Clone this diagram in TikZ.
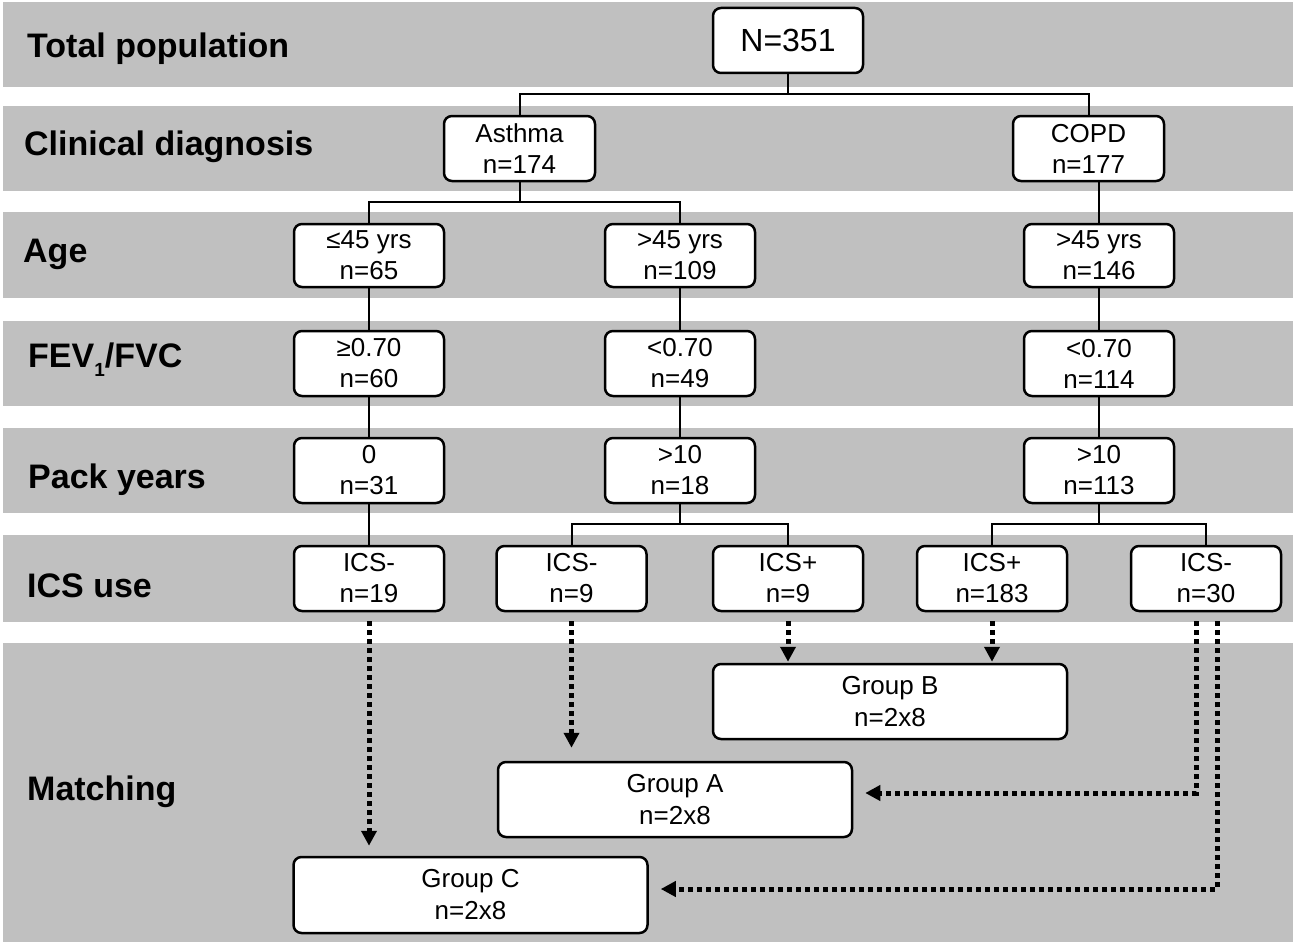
\documentclass[tikz,border=0pt]{standalone}
\usepackage{fontspec}
\setmainfont{Liberation Sans}
\usetikzlibrary{arrows.meta}
\definecolor{bandgray}{RGB}{192,192,192}
\begin{document}
\begin{tikzpicture}[x=1pt,y=-1pt,
  box/.style={draw, line width=2.5pt, rounded corners=8pt, fill=white, align=center, inner sep=0pt,
    font=\fontsize{26}{31}\selectfont, minimum width=150pt, minimum height=65pt},
  grp/.style={box, minimum width=354pt, minimum height=75pt, font=\fontsize{26}{32}\selectfont},
  lbl/.style={anchor=base west, inner sep=0pt, font=\bfseries\fontsize{34}{34}\selectfont},
  conn/.style={line width=2pt},
  dotarr/.style={line width=5pt, dash pattern=on 5pt off 4pt, -{Triangle[length=15pt,width=15pt]}}
]
\useasboundingbox (0,0) rectangle (1293,942);
\foreach \a/\b in {2/87,106/191,212/298,321/406,428/513,535/622,643/942}
  \fill[bandgray] (3,\a) rectangle (1293,\b);

% row labels
\node[lbl] (l1) at (27,58) {Total population};
\node[lbl] (l2) at (24,155) {Clinical diagnosis};
\node[lbl] (l3) at (23,262) {Age};
\node[lbl] (l4) at (28,367) {FEV\raisebox{-9pt}{\fontsize{19}{19}\selectfont 1}/FVC};
\node[lbl] (l5) at (28,488) {Pack years};
\node[lbl] (l6) at (27,597) {ICS use};
\node[lbl] (l7) at (27,800) {Matching};

% boxes
\node[box, font=\fontsize{32}{36}\selectfont] (n351) at (788,40.5) {N=351};
\node[box, minimum width=151pt] (asthma) at (519.5,148.5) {Asthma\\n=174};
\node[box, minimum width=151pt] (copd) at (1088.5,148.5) {COPD\\n=177};
\node[box, minimum height=63pt] (age1) at (369,255.5) {≤45 yrs\\n=65};
\node[box, minimum height=63pt] (age2) at (680,255.5) {>45 yrs\\n=109};
\node[box, minimum height=63pt] (age3) at (1099,255.5) {>45 yrs\\n=146};
\node[box] (fev1) at (369,363.5) {≥0.70\\n=60};
\node[box] (fev2) at (680,363.5) {<0.70\\n=49};
\node[box] (fev3) at (1099,363.5) {<0.70\\n=114};
\node[box] (pack1) at (369,470.5) {0\\n=31};
\node[box] (pack2) at (680,470.5) {>10\\n=18};
\node[box] (pack3) at (1099,470.5) {>10\\n=113};
\node[box] (ics1) at (369,578.5) {ICS-\\n=19};
\node[box] (ics2) at (571.5,578.5) {ICS-\\n=9};
\node[box] (ics3) at (788,578.5) {ICS+\\n=9};
\node[box] (ics4) at (992,578.5) {ICS+\\n=183};
\node[box] (ics5) at (1206,578.5) {ICS-\\n=30};
\node[grp] (grpB) at (890,701.5) {Group B\\n=2x8};
\node[grp] (grpA) at (675,799.5) {Group A\\n=2x8};
\node[grp, minimum height=76pt] (grpC) at (470.5,895) {Group C\\n=2x8};

% junctions
\coordinate (j1) at (788,94);
\coordinate (j2) at (519.5,202);
\coordinate (j3) at (680,524);
\coordinate (j4) at (1099,524);

% solid connectors
\draw[conn] (n351.south) -- (j1);
\draw[conn] (asthma.north) |- (j1) -| (copd.north);
\draw[conn] (asthma.south) -- (j2);
\draw[conn] (age1.north) |- (j2) -| (age2.north);
\draw[conn] (age3.north) -- (age3.north |- copd.south);
\draw[conn] (age1) -- (fev1);
\draw[conn] (fev1) -- (pack1);
\draw[conn] (pack1) -- (ics1);
\draw[conn] (age2) -- (fev2);
\draw[conn] (fev2) -- (pack2);
\draw[conn] (age3) -- (fev3);
\draw[conn] (fev3) -- (pack3);
\draw[conn] (pack2.south) -- (j3);
\draw[conn] (ics2.north) |- (j3) -| (ics3.north);
\draw[conn] (pack3.south) -- (j4);
\draw[conn] (ics4.north) |- (j4) -| (ics5.north);

% dotted matching arrows
\coordinate (s5a) at ([xshift=-10pt]ics5.south);
\coordinate (s5b) at ([xshift=11pt]ics5.south);
\draw[dotarr, shorten <=9pt, shorten >=10pt] (ics1.south) -- (ics1.south |- grpC.north);
\draw[dotarr, shorten <=9pt, shorten >=13pt] (ics2.south) -- (ics2.south |- grpA.north);
\draw[dotarr, shorten <=9pt, shorten >=1pt] (ics3.south) -- (ics3.south |- grpB.north);
\draw[dotarr, shorten <=9pt, shorten >=1pt] (ics4.south) -- (ics4.south |- grpB.north);
\draw[dotarr, shorten <=9pt, shorten >=12pt] (s5a) |- ([yshift=6.5pt]grpA.east);
\draw[dotarr, shorten <=9pt, shorten >=12pt] (s5b) |- ([yshift=6pt]grpC.east);
\end{tikzpicture}
\end{document}
